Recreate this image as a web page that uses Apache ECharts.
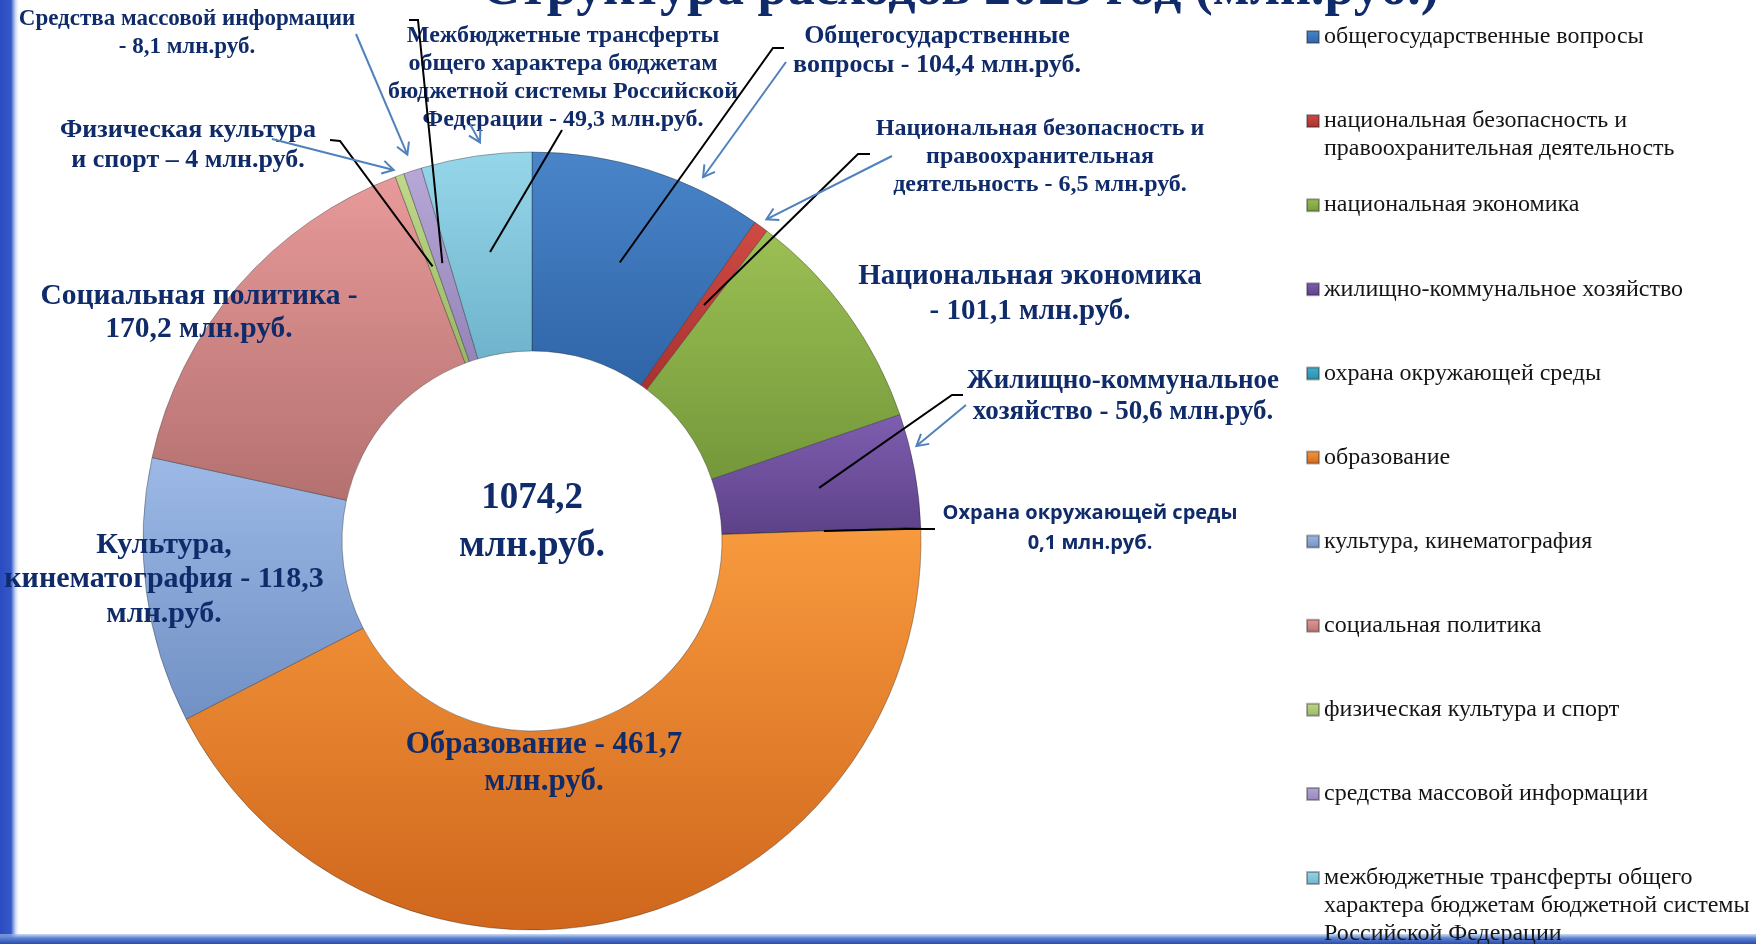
<!DOCTYPE html>
<html><head><meta charset="utf-8">
<script src="https://cdn.jsdelivr.net/npm/echarts@6/dist/echarts.min.js"></script>
<style>html,body{margin:0;padding:0;background:#fff;}#c{width:1756px;height:944px;}</style>
</head><body><div id="c"></div>
<script>
// ---- data ----
const titleText = 'Структура расходов 2023 год (млн.руб.)';
const totalText = '1074,2';
const totalUnit = 'млн.руб.';
const categories = [
  'общегосударственные вопросы',
  'национальная безопасность и правоохранительная деятельность',
  'национальная экономика',
  'жилищно-коммунальное хозяйство',
  'охрана окружающей среды',
  'образование',
  'культура, кинематография',
  'социальная политика',
  'физическая культура и спорт',
  'средства массовой информации',
  'межбюджетные трансферты общего характера бюджетам бюджетной системы Российской Федерации'
];
const values = [104.4, 6.5, 101.1, 50.6, 0.1, 461.7, 118.3, 170.2, 4, 8.1, 49.3];
const labelTexts = [
  'Общегосударственные\nвопросы - 104,4 млн.руб.',
  'Национальная безопасность и\nправоохранительная\nдеятельность - 6,5 млн.руб.',
  'Национальная экономика\n- 101,1 млн.руб.',
  'Жилищно-коммунальное\nхозяйство - 50,6 млн.руб.',
  'Охрана окружающей среды\n0,1 млн.руб.',
  'Образование - 461,7\nмлн.руб.',
  'Культура,\nкинематография - 118,3\nмлн.руб.',
  'Социальная политика -\n170,2 млн.руб.',
  'Физическая культура\nи спорт – 4 млн.руб.',
  'Средства массовой информации\n- 8,1 млн.руб.',
  'Межбюджетные трансферты\nобщего характера бюджетам\nбюджетной системы Российской\nФедерации - 49,3 млн.руб.'
];
const legendTexts = [
  'общегосударственные вопросы',
  'национальная безопасность и\nправоохранительная деятельность',
  'национальная экономика',
  'жилищно-коммунальное хозяйство',
  'охрана окружающей среды',
  'образование',
  'культура, кинематография',
  'социальная политика',
  'физическая культура и спорт',
  'средства массовой информации',
  'межбюджетные трансферты общего\nхарактера бюджетам бюджетной системы\nРоссийской Федерации'
];

// ---- styles / layout ----
const NAVY = '#102b6a';
const colorTop = ['#4a85c9','#d04a44','#9cc054','#7e5eb0','#45b4d0','#f89a3e','#9cb9e6','#e79a99','#c0d88a','#b8a8d8','#96d6ea'];
const colorBot = ['#2f64a8','#a83230','#74983a','#5d4188','#2a8aa8','#cf661c','#7190c4','#b47170','#98b866','#9484b8','#6eb4cc'];
const CX = 532, CY = 541, R_IN = 190, R_OUT = 389, R_GUIDE = 292;
const labelPos = [[937,50.5],[1040,157],[1030,294.5],[1123,396.5],[1090,528],[544,763.5],[164,579.5],[199,312.5],[188,145],[187,33],[563,77.5]];
const labelFont = [26,24,29,27,20,31,30,29.5,26,23,24];
const labelLH = [29,28,35,31,30,37,34.5,33,30,28,28];
const labelFamily = ['Liberation Serif','Liberation Serif','Liberation Serif','Liberation Serif','Open Sans','Liberation Serif','Liberation Serif','Liberation Serif','Liberation Serif','Liberation Serif','Liberation Serif'];
const guides = [[[773,48],[784,48]], [[858,154],[870,154]], null, [[952,395],[963,395]], [[905,529],[935,529]], null, null, null, [[340,141],[330,140]], [[418,20],[409,20]], [[562,130],[562,130]]];
const arrows = [
  {from:[786,62], i:0, frac:0.72, r:402},
  {from:[892,156], i:1, frac:0.5, r:398},
  {from:[966,405], i:3, frac:0.3, r:396},
  {from:[272,139], i:8, frac:0.1, r:396},
  {from:[356,34], i:9, frac:0.5, r:406},
  {from:[470,124], i:10, frac:0.55, r:402}
];
const legendTop0 = 37, legendStep = 84.1, legendLH = 28;

const total = values.reduce((a,b)=>a+b,0);
const startA = []; { let acc = 0; values.forEach(v => { startA.push(acc/total*360); acc += v; }); }
function sliceAngle(i, frac){ return startA[i] + values[i]/total*360*frac; }
function polar(deg, r){ const a = deg*Math.PI/180; return [CX + r*Math.sin(a), CY - r*Math.cos(a)]; }

function grad(i){
  return {type:'linear', x:0, y:0, x2:0, y2:1, colorStops:[{offset:0,color:colorTop[i]},{offset:1,color:colorBot[i]}]};
}

const pieData = values.map((v,i)=>({
  name: categories[i], value: v,
  itemStyle: {color: grad(i)},
  label: {fontSize: labelFont[i], lineHeight: labelLH[i], fontFamily: labelFamily[i]}
}));

const legends = categories.map((name,i)=>{
  const n = legendTexts[i].split('\n').length;
  const txt = '\n'.repeat(n-1) + legendTexts[i];
  const center = legendTop0 + i*legendStep;
  return {
    left: 1306, top: center - (2*n-1)*legendLH/2, orient: 'vertical', padding: 0,
    itemWidth: 12, itemHeight: 12, itemGap: 0, icon: 'rect', selectedMode: false,
    data: [name], formatter: () => txt,
    textStyle: {fontFamily: 'Liberation Serif', fontSize: 24, color: '#151515', lineHeight: legendLH}
  };
});

const graphics = [
  {type:'rect', shape:{x:0,y:0,width:20,height:944}, style:{fill:{type:'linear',x:0,y:0,x2:1,y2:0,colorStops:[{offset:0,color:'#2a4cc0'},{offset:0.55,color:'#3558c8'},{offset:0.7,color:'#9fb3e6'},{offset:1,color:'rgba(255,255,255,0)'}]}}, z:0},
  {type:'rect', shape:{x:0,y:934,width:1756,height:10}, style:{fill:{type:'linear',x:0,y:0,x2:0,y2:1,colorStops:[{offset:0,color:'rgba(160,190,235,0.6)'},{offset:0.4,color:'#5c82d0'},{offset:1,color:'#2a4cb0'}]}}, z:0},
  {type:'text', x:960, y:-10, style:{text:titleText, fill:NAVY, fontSize:54, fontWeight:'bold', fontFamily:'Liberation Serif', align:'center', verticalAlign:'middle'}},
  {type:'text', x:CX, y:498, style:{text:totalText, fill:NAVY, fontSize:37, fontWeight:'bold', fontFamily:'Liberation Serif', align:'center', verticalAlign:'middle'}},
  {type:'text', x:CX, y:546, style:{text:totalUnit, fill:NAVY, fontSize:38, fontWeight:'bold', fontFamily:'Liberation Serif', align:'center', verticalAlign:'middle'}}
];
guides.forEach((g,i)=>{
  if (!g) return;
  const p0 = polar(sliceAngle(i, 0.5), R_GUIDE);
  graphics.push({type:'polyline', z:100, shape:{points:[p0, g[0], g[1]]}, style:{stroke:'#000', lineWidth:2, fill:null}});
});
arrows.forEach(a=>{
  const tip = polar(sliceAngle(a.i, a.frac), a.r);
  const dx = a.from[0]-tip[0], dy = a.from[1]-tip[1];
  const L = Math.hypot(dx,dy), ux = dx/L, uy = dy/L;
  const h = 13, s = Math.sin(Math.PI/6), c = Math.cos(Math.PI/6);
  const p1 = [tip[0] + h*(ux*c - uy*s), tip[1] + h*(uy*c + ux*s)];
  const p2 = [tip[0] + h*(ux*c + uy*s), tip[1] + h*(uy*c - ux*s)];
  graphics.push({type:'line', z:100, shape:{x1:a.from[0], y1:a.from[1], x2:tip[0], y2:tip[1]}, style:{stroke:'#4f81bd', lineWidth:2}});
  graphics.push({type:'polyline', z:100, shape:{points:[p1, tip, p2]}, style:{stroke:'#4f81bd', lineWidth:2, fill:null}});
});

const chart = echarts.init(document.getElementById('c'), null, {renderer:'canvas'});
chart.setOption({
  backgroundColor: '#ffffff',
  animation: false,
  legend: legends,
  graphic: graphics,
  series: [{
    type: 'pie', center: [CX, CY], radius: [R_IN, R_OUT], startAngle: 90, clockwise: true,
    avoidLabelOverlap: false, emphasis: {disabled: true},
    itemStyle: {borderColor: 'rgba(30,30,30,0.35)', borderWidth: 1},
    data: pieData,
    label: {show: true, position: 'outside', formatter: p => labelTexts[p.dataIndex], color: NAVY, fontWeight: 'bold', width: 600, overflow: 'none', align: 'center'},
    labelLine: {show: false},
    labelLayout: function (p) {
      const i = p.dataIndex;
      return {x: labelPos[i][0], y: labelPos[i][1], align: 'center', verticalAlign: 'middle'};
    }
  }]
});
</script></body></html>
